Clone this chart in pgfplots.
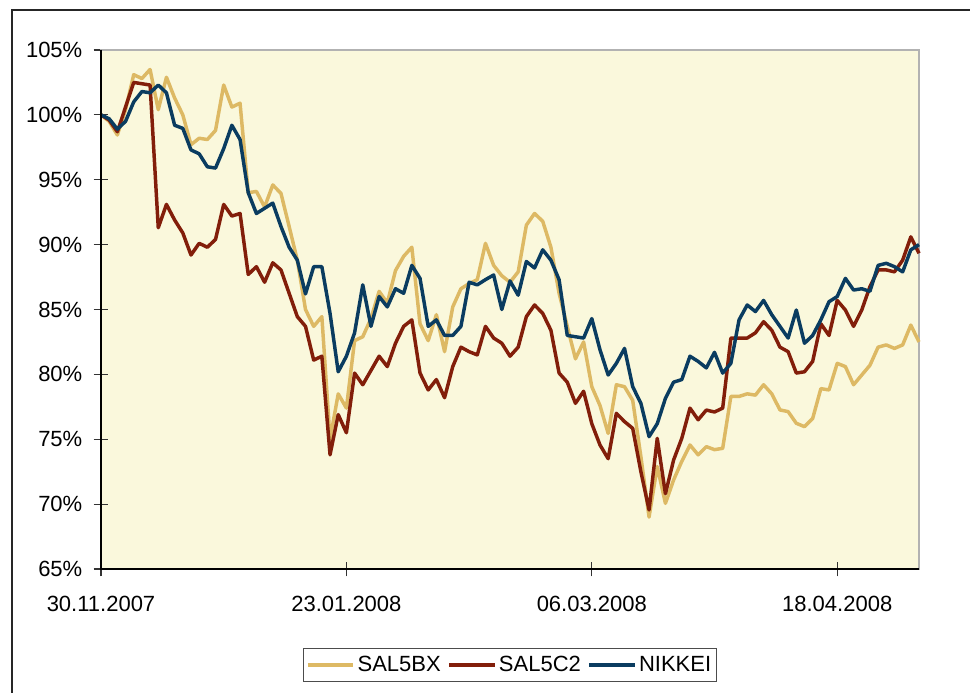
\documentclass[border=0pt]{standalone}
\usepackage{fontspec}
\setmainfont{Liberation Sans}
\usepackage{pgfplots}
\usepackage{pgfplotstable}
\pgfplotsset{compat=1.18}
\definecolor{goldc}{RGB}{221,185,100}
\definecolor{redc}{RGB}{130,30,10}
\definecolor{bluec}{RGB}{10,60,96}
\definecolor{bgc}{RGB}{250,248,220}
\pgfplotstableread{
x gold red blue
0 100.0 100.0 100.0
1 99.5 99.6 99.7
2 98.45 98.7 98.9
3 100.4 100.6 99.5
4 103.1 102.5 101.0
5 102.8 102.4 101.8
6 103.5 102.3 101.7
7 100.4 91.3 102.3
8 102.9 93.1 101.7
9 101.3 91.9 99.2
10 100.0 90.9 98.96
11 97.7 89.2 97.3
12 98.2 90.1 97.0
13 98.1 89.8 96.0
14 98.8 90.4 95.9
15 102.3 93.1 97.4
16 100.6 92.2 99.2
17 100.9 92.4 98.1
18 94.0 87.7 94.0
19 94.1 88.3 92.4
20 92.9 87.1 92.8
21 94.6 88.6 93.2
22 93.95 88.05 91.4
23 91.4 86.25 89.8
24 88.8 84.45 88.8
25 85.0 83.7 86.2
26 83.7 81.1 88.3
27 84.45 81.4 88.3
28 75.0 73.8 84.7
29 78.5 76.9 80.2
30 77.4 75.5 81.4
31 82.6 80.1 83.2
32 82.9 79.2 86.9
33 84.3 80.3 83.7
34 86.4 81.4 86.0
35 85.5 80.6 85.2
36 88.0 82.4 86.6
37 89.1 83.7 86.25
38 89.8 84.2 88.4
39 83.9 80.1 87.4
40 82.6 78.8 83.7
41 84.6 79.6 84.2
42 81.75 78.2 83.0
43 85.2 80.6 83.0
44 86.6 82.1 83.7
45 87.0 81.75 87.1
46 87.3 81.5 86.9
47 90.1 83.7 87.3
48 88.4 82.8 87.66
49 87.6 82.4 85.0
50 87.1 81.4 87.2
51 87.9 82.1 86.1
52 91.5 84.45 88.7
53 92.4 85.35 88.2
54 91.8 84.7 89.6
55 89.8 83.4 88.8
56 86.25 80.1 87.3
57 83.7 79.4 83.0
58 81.2 77.77 82.9
59 82.5 78.7 82.8
60 79.05 76.2 84.3
61 77.6 74.56 81.9
62 75.45 73.5 79.95
63 79.2 77.0 80.85
64 79.05 76.36 82.0
65 78.0 75.84 79.05
66 73.66 72.5 77.77
67 69.0 69.55 75.2
68 72.9 75.07 76.2
69 70.06 70.8 78.15
70 71.86 73.4 79.4
71 73.3 75.07 79.6
72 74.56 77.4 81.4
73 73.8 76.5 81.0
74 74.43 77.25 80.5
75 74.2 77.1 81.7
76 74.3 77.4 80.1
77 78.3 82.8 80.85
78 78.3 82.8 84.2
79 78.5 82.8 85.35
80 78.4 83.2 84.84
81 79.2 84.06 85.7
82 78.5 83.4 84.6
83 77.26 82.1 83.7
84 77.13 81.75 82.8
85 76.23 80.1 84.96
86 75.97 80.2 82.4
87 76.6 81.0 83.0
88 78.9 83.9 84.2
89 78.8 83.0 85.6
90 80.85 85.7 86.0
91 80.6 84.96 87.4
92 79.2 83.7 86.5
93 79.95 84.96 86.6
94 80.7 86.76 86.4
95 82.1 88.05 88.4
96 82.27 88.05 88.56
97 82.0 87.9 88.3
98 82.27 88.8 87.9
99 83.8 90.6 89.6
100 82.5 89.33 90.0
}\datatable
\begin{document}
\begin{tikzpicture}[x=0.75pt,y=0.75pt]
\useasboundingbox (0,0) rectangle (970,692);
\draw[line width=1.4pt, black!85] (12,-20) rectangle (990,682);
\begin{axis}[
  at={(75.75pt,92.25pt)}, anchor=south west,
  scale only axis, width=613.5pt, height=389.25pt,
  xmin=0, xmax=100, ymin=65, ymax=105,
  axis background/.style={fill=bgc},
  axis line style={draw=black!30, line width=1.2pt},
  xtick={0,30,60,90},
  xticklabels={30.11.2007,23.01.2008,06.03.2008,18.04.2008},
  ytick={65,70,75,80,85,90,95,100,105},
  yticklabels={65\%,70\%,75\%,80\%,85\%,90\%,95\%,100\%,105\%},
  tick pos=left, tick align=center, major tick length=11pt,
  tick style={black!80, line width=0.8pt},
  every tick label/.append style={font=\fontsize{16.5}{19}\selectfont},
  xticklabel style={yshift=-11.5pt},
  yticklabel style={xshift=-5pt},
  legend style={at={(0.5,-0.152)}, anchor=north, legend columns=3,
    draw=black!70, line width=0.8pt, font=\fontsize{16.5}{19}\selectfont,
    inner xsep=2pt, inner ysep=4pt,
    nodes={inner xsep=2pt},
    /tikz/every even column/.append style={column sep=3pt}},
  legend image code/.code={\draw[#1] (0pt,0pt) -- (34pt,0pt);},
  clip=false,
]
\addplot[goldc, line width=2.6pt, line join=round] table[x=x,y=gold]{\datatable};
\addlegendentry{SAL5BX}
\addplot[redc, line width=2.6pt, line join=round] table[x=x,y=red]{\datatable};
\addlegendentry{SAL5C2}
\addplot[bluec, line width=2.6pt, line join=round] table[x=x,y=blue]{\datatable};
\addlegendentry{NIKKEI}
\draw[black, line width=1pt] (rel axis cs:0,1) -- (rel axis cs:0,0) -- (rel axis cs:1,0);
\end{axis}
\end{tikzpicture}
\end{document}
